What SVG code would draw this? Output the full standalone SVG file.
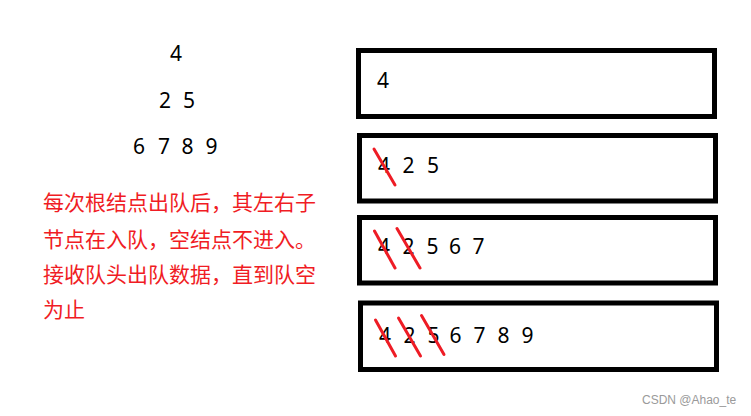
<svg xmlns="http://www.w3.org/2000/svg" width="751" height="416" viewBox="0 0 751 416">
<style>
.box{fill:#fff;stroke:#000;stroke-width:5}
.num{font-family:"Noto Sans","DejaVu Sans",sans-serif;font-size:21px;fill:#000}
.cn{font-family:"Noto Sans CJK SC",sans-serif;font-size:21px;fill:#f01c24}
.strike{stroke:#ee1c25;stroke-width:3;stroke-linecap:round}
.wm{font-family:"Liberation Sans",Arial,sans-serif;font-size:12px;fill:#9a9a9a}
</style>
<rect width="751" height="416" fill="#fff"/>
<g id="tree">
<text class="num" x="170" y="61">4</text>
<text class="num" x="159" y="107.5">2</text>
<text class="num" x="183" y="107.5">5</text>
<text class="num" x="133" y="154">6</text>
<text class="num" x="158" y="154">7</text>
<text class="num" x="181.5" y="154">8</text>
<text class="num" x="205.5" y="154">9</text>
</g>
<g id="note">
<text class="cn" x="43" y="210">每次根结点出队后，其左右子</text>
<text class="cn" x="43" y="246.5">节点在入队，空结点不进入。</text>
<text class="cn" x="43" y="282">接收队头出队数据，直到队空</text>
<text class="cn" x="43" y="316.5">为止</text>
</g>
<g id="queue1">
<rect class="box" x="358.5" y="50.5" width="356" height="66"/>
<text class="num" x="377" y="88">4</text>
</g>
<g id="queue2">
<rect class="box" x="359.5" y="135.5" width="356" height="65.5"/>
<text class="num" x="378" y="173">4</text>
<text class="num" x="402.5" y="173">2</text>
<text class="num" x="427" y="173">5</text>
<line class="strike" x1="374" y1="149" x2="395" y2="185"/>
</g>
<g id="queue3">
<rect class="box" x="359.5" y="217.5" width="356" height="65.5"/>
<text class="num" x="378" y="253.5">4</text>
<text class="num" x="402.5" y="253.5">2</text>
<text class="num" x="426.5" y="253.5">5</text>
<text class="num" x="449" y="253.5">6</text>
<text class="num" x="472.5" y="253.5">7</text>
<line class="strike" x1="374.5" y1="231" x2="395" y2="268"/>
<line class="strike" x1="397" y1="228.5" x2="420" y2="268"/>
</g>
<g id="queue4">
<rect class="box" x="360.5" y="303" width="356" height="66.5"/>
<text class="num" x="379" y="343">4</text>
<text class="num" x="403.5" y="343">2</text>
<text class="num" x="427.5" y="343">5</text>
<text class="num" x="449.5" y="343">6</text>
<text class="num" x="473.5" y="343">7</text>
<text class="num" x="497.5" y="343">8</text>
<text class="num" x="521.5" y="343">9</text>
<line class="strike" x1="375.5" y1="320" x2="395.5" y2="356"/>
<line class="strike" x1="398.5" y1="318" x2="420.5" y2="356"/>
<line class="strike" x1="421.5" y1="315.5" x2="444" y2="354.5"/>
</g>
<g id="connectors"/>
<text class="wm" x="642" y="404">CSDN @Ahao_te</text>
</svg>
